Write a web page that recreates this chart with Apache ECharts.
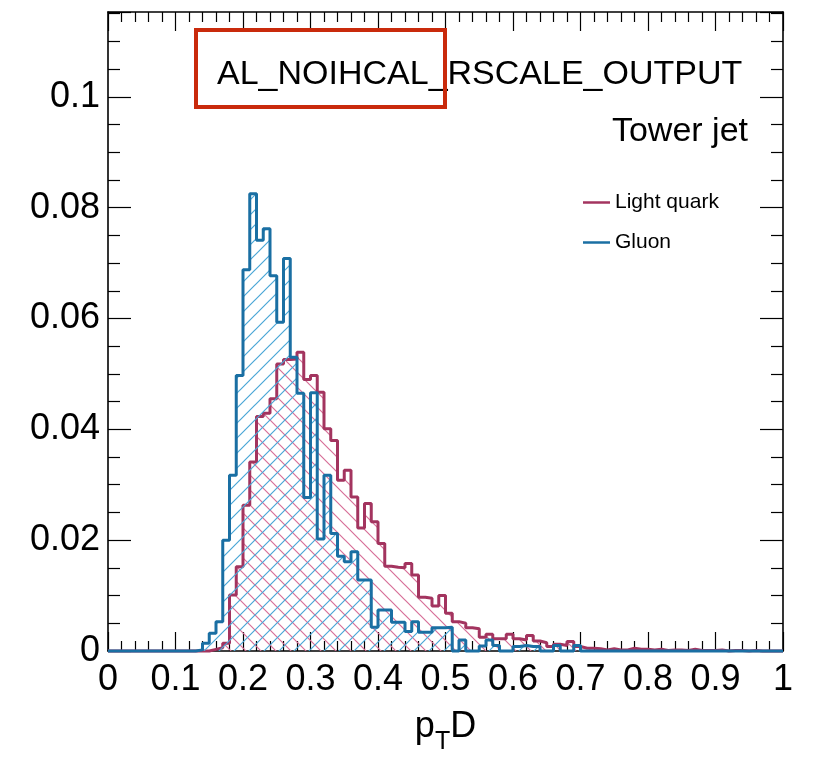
<!DOCTYPE html>
<html>
<head>
<meta charset="utf-8">
<script src="https://cdn.jsdelivr.net/npm/echarts@6/dist/echarts.min.js"></script>
<style>
html,body{margin:0;padding:0;background:#fff;}
#chart{width:815px;height:768px;}
</style>
</head>
<body>
<div id="chart"></div>
<script>
// ---- data (bin contents, 100 bins from 0 to 1) ----
const xRange = [0, 1];
const nBins = 100;
const gluon = [
  0,0,0,0,0,0,0,0,0,0,0,0,0,
  0.0002,0.0014,0.0032,0.0053,0.0200,0.0317,0.0497,0.0688,0.0825,0.0741,
  0.0762,0.0677,0.0593,0.0708,0.0530,0.0465,0.0277,0.0466,0.0202,0.0317,
  0.0212,0.0171,0.0161,0.0179,0.0128,0.0128,0.0043,0.0074,0.0074,0.0052,
  0.0052,0.0035,0.0053,0.0034,0.0034,0.0042,0.0042,0.0043,0,0.0020,
  0,0,0.0009,0.0020,0.0010,0,0,0.0008,0.0010,0.0008,
  0.0008,0,0,0.0010,0,0,0.0010,
  0,0,0,0,0,0,0,0,0,0,0,0,0,0,0,0,0,0,0,0,0,0,0,0,0,0,0,0,0,0
];
const lightQuark = [
  0,0,0,0,0,0,0,0,0,0,0,0,0,0,0,
  0.0003,0.0006,0.0014,0.0101,0.0152,0.0263,0.0341,0.0423,0.0429,0.0455,
  0.0518,0.0526,0.0527,0.0539,0.0490,0.0497,0.0467,0.0401,0.0380,0.0308,
  0.0326,0.0278,0.0222,0.0266,0.0233,0.0194,0.0153,0.0151,0.0150,0.0158,
  0.0137,0.0097,0.0095,0.0081,0.0100,0.0068,0.0053,0.0050,0.0042,0.0040,
  0.0025,0.0030,0.0022,0.0022,0.0030,0.0022,0.0020,0.0028,0.0018,0.0015,
  0.0008,0.0012,0.0010,0.0017,0.0008,0.0005,0.0005,0.0004,0.0002,0.0004,
  0.0002,0.0002,0.0005,0.0003,0.0003,0.0002,0.0003,0.0001,0.0002,0.0002,
  0.0001,0.0003,0.0001,0.0001,0.0001,0.0002,0,0.0001,0.0001,0,
  0.0001,0,0,0,0
];
const seriesNames = ['Light quark', 'Gluon'];
const xTickLabels = ['0','0.1','0.2','0.3','0.4','0.5','0.6','0.7','0.8','0.9','1'];
const yTickLabels = ['0','0.02','0.04','0.06','0.08','0.1'];
const titleText = 'AL_NOIHCAL_RSCALE_OUTPUT';
const subText = 'Tower jet';

// ---- styles ----
const FONT = "'Liberation Sans', Arial, Helvetica, sans-serif";
const RED = '#a3345f';
const BLUE = '#1a6fa3';
const RED_HATCH = '#d76f98';
const BLUE_HATCH = '#4aa6d6';

function hatch(color, dir) {
  const s = 15;
  const c = document.createElement('canvas');
  c.width = s; c.height = s;
  const g = c.getContext('2d');
  g.strokeStyle = color;
  g.lineWidth = 1.2;
  g.beginPath();
  if (dir === '/') {
    for (const k of [-s, 0, s]) { g.moveTo(k - 2, s + 2); g.lineTo(k + s + 2, -2); }
  } else {
    for (const k of [-s, 0, s]) { g.moveTo(k - 2, -2); g.lineTo(k + s + 2, s + 2); }
  }
  g.stroke();
  return { image: c, repeat: 'repeat' };
}

function stepData(vals) {
  const w = (xRange[1] - xRange[0]) / nBins;
  const d = vals.map((v, i) => [xRange[0] + i * w, v]);
  d.push([xRange[1], vals[vals.length - 1]]);
  return d;
}

function fmtX(v) { return xTickLabels[Math.round(v * 10)] || ''; }
function fmtY(v) { const i = Math.round(v / 0.02); return Math.abs(v - i * 0.02) < 1e-9 ? (yTickLabels[i] || '') : ''; }

const axisLineStyle = { color: '#000', width: 1.6 };
function xAx(pos, showLabel) {
  return {
    type: 'value', min: 0, max: 1, interval: 0.1, position: pos,
    axisLine: { show: true, onZero: false, lineStyle: axisLineStyle },
    axisTick: { show: true, inside: true, length: 19, lineStyle: { color: '#000', width: 1.2 } },
    minorTick: { show: true, splitNumber: 5, length: 10, lineStyle: { color: '#000', width: 1.2 } },
    splitLine: { show: false },
    axisLabel: { show: showLabel, fontSize: 36, fontFamily: FONT, color: '#000', margin: 11, formatter: fmtX },
    name: showLabel ? '{a|p}{s|T}{a|D}' : '',
    nameLocation: 'middle', nameGap: 58,
    nameTextStyle: {
      fontFamily: FONT, color: '#000',
      rich: {
        a: { fontSize: 36, fontFamily: FONT, color: '#000', padding: [0, 0, 10, 0], verticalAlign: 'bottom' },
        s: { fontSize: 25, fontFamily: FONT, color: '#000', verticalAlign: 'bottom' }
      }
    }
  };
}
function yAx(pos, showLabel) {
  return {
    type: 'value', min: 0, max: 0.1153, interval: 0.02, position: pos,
    axisLine: { show: true, onZero: false, lineStyle: axisLineStyle },
    axisTick: { show: true, inside: true, length: 23, lineStyle: { color: '#000', width: 1.2 } },
    minorTick: { show: true, splitNumber: 4, length: 12, lineStyle: { color: '#000', width: 1.2 } },
    splitLine: { show: false },
    axisLabel: { show: showLabel, fontSize: 36, fontFamily: FONT, color: '#000', margin: 8, formatter: fmtY, showMaxLabel: false }
  };
}

const chart = echarts.init(document.getElementById('chart'), null, { renderer: 'canvas' });
chart.setOption({
  animation: false,
  backgroundColor: '#fff',
  grid: { left: 108, right: 32, top: 12, bottom: 117, containLabel: false },
  xAxis: [xAx('bottom', true), xAx('top', false)],
  yAxis: [yAx('left', true), yAx('right', false)],
  legend: {
    orient: 'vertical', left: 583, top: 192, padding: 0, itemWidth: 27, itemHeight: 2.5, itemGap: 19,
    icon: 'rect', selectedMode: false,
    textStyle: { fontSize: 21, fontFamily: FONT, color: '#000' },
    data: [
      { name: seriesNames[0], itemStyle: { color: RED } },
      { name: seriesNames[1], itemStyle: { color: BLUE } }
    ]
  },
  series: [
    {
      name: seriesNames[0], type: 'line', step: 'end', data: stepData(lightQuark),
      xAxisIndex: 0, yAxisIndex: 0, symbol: 'none', clip: false,
      lineStyle: { color: RED, width: 3 }, itemStyle: { color: RED },
      areaStyle: { color: hatch(RED_HATCH, '\\'), opacity: 1, origin: 'start' }, z: 2
    },
    {
      name: seriesNames[1], type: 'line', step: 'end', data: stepData(gluon),
      xAxisIndex: 0, yAxisIndex: 0, symbol: 'none', clip: false,
      lineStyle: { color: BLUE, width: 3 }, itemStyle: { color: BLUE },
      areaStyle: { color: hatch(BLUE_HATCH, '/'), opacity: 1, origin: 'start' }, z: 3
    }
  ],
  graphic: [
    { type: 'text', left: 217, top: 58, z: 10,
      style: { text: titleText, fontSize: 34, fontFamily: FONT, fill: '#000' } },
    { type: 'rect', z: 11, shape: { x: 196, y: 30, width: 249, height: 77 },
      style: { fill: 'none', stroke: '#c92a0c', lineWidth: 4 } },
    { type: 'text', right: 815 - 748, top: 115, z: 10,
      style: { text: subText, fontSize: 34, fontFamily: FONT, fill: '#000' } }
  ]
});
</script>
</body>
</html>
